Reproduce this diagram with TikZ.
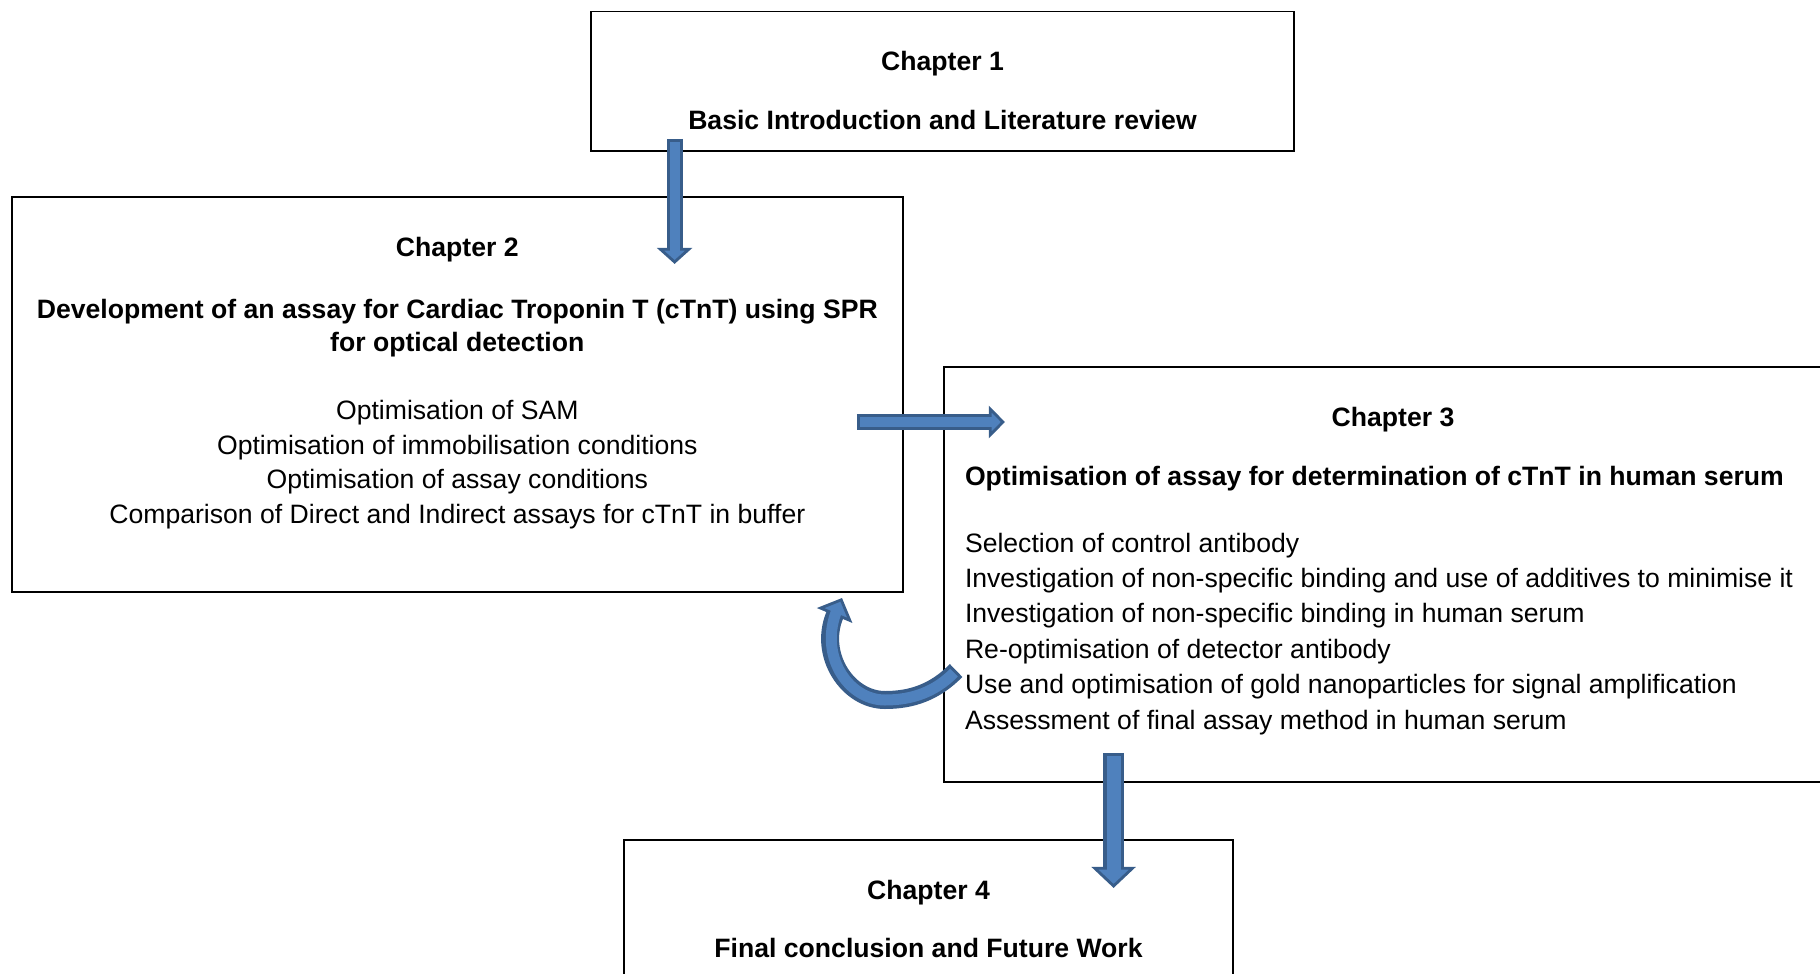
\documentclass[tikz,border=0pt]{standalone}
\usepackage{fontspec}
\setmainfont{Liberation Sans}
\usetikzlibrary{arrows.meta}

\definecolor{arrowfill}{HTML}{4F81BD}
\definecolor{arrowline}{HTML}{385D8A}

\tikzset{
    bigarrow/.style n args={3}{draw=arrowline, line width=#1, -{Triangle[length=#2, width=#3, line width=1.4pt, fill=arrowfill]}},
    bigarrowin/.style={draw=arrowfill, line width=#1, shorten <=1.5pt, shorten >=6pt},
}

\begin{document}
\begin{tikzpicture}
        [x=0.5pt, y=-0.5pt, font=\fontsize{13.3}{16}\selectfont,
         chapbox/.style={rectangle, draw=black, line width=0.9pt, inner sep=0pt},
         txt/.style={inner sep=0pt, anchor=base},
         txtl/.style={inner sep=0pt, anchor=base west}]

        \useasboundingbox (0, 0) rectangle (1820, 974);
        \clip (0, 0) rectangle (1820, 974);

        \node[chapbox, minimum width=351.5pt, minimum height=69.7pt] (ch1box) at (942.5, 81.3) {};
        \node[chapbox, minimum width=445.7pt, minimum height=197.5pt] (ch2box) at (457.3, 394.5) {};
        \node[chapbox, minimum width=450pt, minimum height=207.5pt] (ch3box) at (1394, 574.5) {};
        \node[chapbox, minimum width=304.5pt, minimum height=85pt] (ch4box) at (928.5, 925) {};

        \node[txt] (ch1title) at (942.5, 71) {\bfseries Chapter 1};
        \node[txt] (ch1sub) at (942.5, 130) {\bfseries Basic Introduction and Literature review};

        \node[txt] (ch2title) at (457.3, 256.5) {\bfseries Chapter 2};
        \node[txt] (ch2sub1) at (457.3, 318.5) {\bfseries Development of an assay for Cardiac Troponin T (cTnT) using SPR};
        \node[txt] (ch2sub2) at (457.3, 351.5) {\bfseries for optical detection};
        \node[txt] (ch2a) at (457.3, 419.5) {Optimisation of SAM};
        \node[txt] (ch2b) at (457.3, 454) {Optimisation of immobilisation conditions};
        \node[txt] (ch2c) at (457.3, 488.5) {Optimisation of assay conditions};
        \node[txt] (ch2d) at (457.3, 523.5) {Comparison of Direct and Indirect assays for cTnT in buffer};

        \node[txt] (ch3title) at (1393, 426.5) {\bfseries Chapter 3};
        \node[txtl] (ch3sub) at (964.6, 485.5) {\bfseries Optimisation of assay for determination of cTnT in human serum};
        \node[txtl] (ch3a) at (964.6, 552.5) {Selection of control antibody};
        \node[txtl] (ch3b) at (964.6, 587.5) {Investigation of non-specific binding and use of additives to minimise it};
        \node[txtl] (ch3c) at (964.6, 622.5) {Investigation of non-specific binding in human serum};
        \node[txtl] (ch3d) at (964.6, 658.5) {Re-optimisation of detector antibody};
        \node[txtl] (ch3e) at (964.6, 693.5) {Use and optimisation of gold nanoparticles for signal amplification};
        \node[txtl] (ch3f) at (964.6, 729.5) {Assessment of final assay method in human serum};

        \node[txt] (ch4title) at (928.5, 899.5) {\bfseries Chapter 4};
        \node[txt] (ch4sub) at (928.5, 957.5) {\bfseries Final conclusion and Future Work};

        % block arrows between the chapters
        \draw[bigarrow={8pt}{8pt}{17.5pt}] (ch1box.south west) ++(84.5, -13) -- ++(0, 125);
        \draw[bigarrowin={5pt}] (ch1box.south west) ++(84.5, -13) -- ++(0, 125);

        \draw[bigarrow={8pt}{8pt}{16pt}] (ch2box.east) ++(-47, 27.5) -- ++(148, 0);
        \draw[bigarrowin={5pt}] (ch2box.east) ++(-47, 27.5) -- ++(148, 0);

        \draw[bigarrow={10.5pt}{10.5pt}{22pt}] (ch3box.south west) ++(170.5, -30) -- ++(0, 135);
        \draw[bigarrowin={7pt}] (ch3box.south west) ++(170.5, -30) -- ++(0, 135);

        % curved arrow back to chapter 2
        \draw[bigarrow={9pt}{9.5pt}{19pt}] (ch3box.west) ++(13, 96) .. controls (935, 692) and (912, 700) .. (885, 700) .. controls (848, 700) and (818, 655) .. (842, 598);
        \draw[bigarrowin={5.5pt}] (ch3box.west) ++(13, 96) .. controls (935, 692) and (912, 700) .. (885, 700) .. controls (848, 700) and (818, 655) .. (842, 598);
    \end{tikzpicture}
\end{document}
